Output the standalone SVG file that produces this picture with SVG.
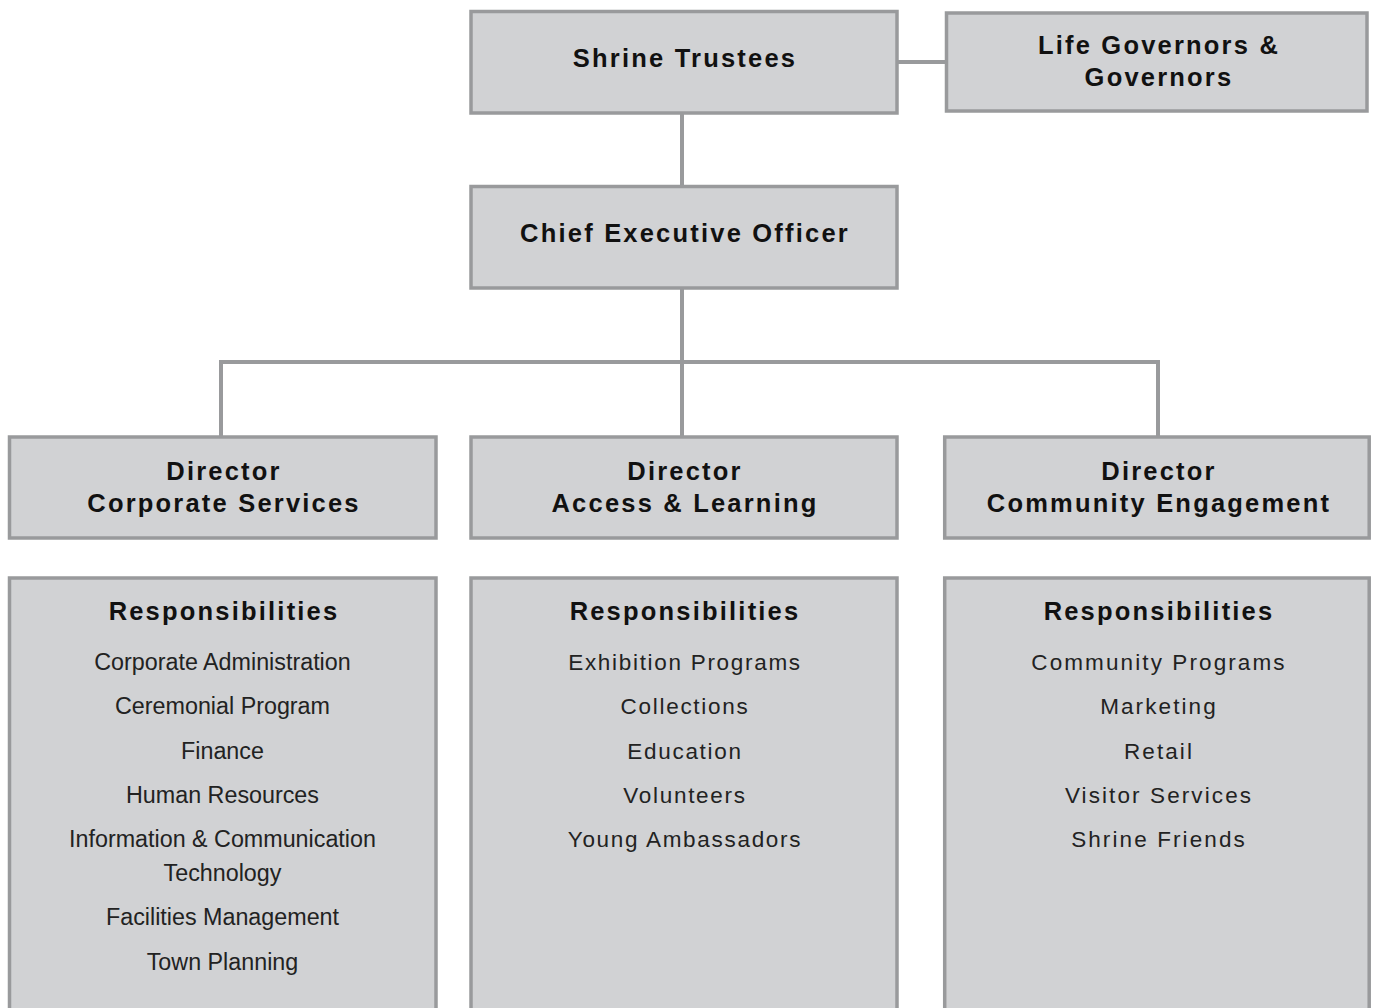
<svg xmlns="http://www.w3.org/2000/svg" width="1376" height="1008" viewBox="0 0 1376 1008">
<style>
.box{fill:#d1d2d4;stroke:#999a9c;stroke-width:3.5}
.conn{stroke:#999a9c;stroke-width:4;fill:none}
.h{font-family:"Liberation Sans",Arial,sans-serif;font-weight:bold;font-size:25.5px;letter-spacing:2.2px;fill:#111;text-anchor:middle}
.l{font-family:"Liberation Sans",Arial,sans-serif;font-size:23.3px;fill:#222;text-anchor:middle}
.m{font-family:"Liberation Sans",Arial,sans-serif;font-size:22.5px;letter-spacing:1.7px;fill:#222;text-anchor:middle}
.r{font-family:"Liberation Sans",Arial,sans-serif;font-size:22.5px;letter-spacing:2.1px;fill:#222;text-anchor:middle}
</style>
<rect width="1376" height="1008" fill="#fff"/>
<g id="connectors">
<line class="conn" x1="682" y1="113" x2="682" y2="187"/>
<line class="conn" x1="897" y1="62" x2="947" y2="62"/>
<line class="conn" x1="682" y1="288" x2="682" y2="437"/>
<polyline class="conn" points="221,437 221,362 1158,362 1158,437"/>
</g>
<g id="trustees">
<rect class="box" x="471" y="11.5" width="426" height="101.5"/>
<text class="h" x="685" y="67">Shrine Trustees</text>
</g>
<g id="governors">
<rect class="box" x="946.5" y="13" width="420.5" height="98"/>
<text class="h" x="1159" y="53.5">Life Governors &amp;</text>
<text class="h" x="1159" y="85.5">Governors</text>
</g>
<g id="ceo">
<rect class="box" x="471" y="186.5" width="426" height="101.5"/>
<text class="h" x="685" y="242">Chief Executive Officer</text>
</g>
<g id="dir-corporate">
<rect class="box" x="9.5" y="437" width="426.5" height="101"/>
<text class="h" x="224" y="479.5">Director</text>
<text class="h" x="224" y="511.5">Corporate Services</text>
</g>
<g id="dir-access">
<rect class="box" x="471" y="437" width="426" height="101"/>
<text class="h" x="685" y="479.5">Director</text>
<text class="h" x="685" y="511.5">Access &amp; Learning</text>
</g>
<g id="dir-community">
<rect class="box" x="944.7" y="437" width="424.5" height="101"/>
<text class="h" x="1159" y="479.5">Director</text>
<text class="h" x="1159" y="511.5">Community Engagement</text>
</g>
<g id="resp-corporate">
<rect class="box" x="9.5" y="578" width="426.5" height="440"/>
<text class="h" x="224" y="620">Responsibilities</text>
<text class="l" x="222.5" y="670">Corporate Administration</text>
<text class="l" x="222.5" y="714">Ceremonial Program</text>
<text class="l" x="222.5" y="759">Finance</text>
<text class="l" x="222.5" y="803">Human Resources</text>
<text class="l" x="222.5" y="847">Information &amp; Communication</text>
<text class="l" x="222.5" y="881">Technology</text>
<text class="l" x="222.5" y="925">Facilities Management</text>
<text class="l" x="222.5" y="970">Town Planning</text>
</g>
<g id="resp-access">
<rect class="box" x="471" y="578" width="426" height="440"/>
<text class="h" x="685" y="620">Responsibilities</text>
<text class="m" x="685" y="670">Exhibition Programs</text>
<text class="m" x="685" y="714">Collections</text>
<text class="m" x="685" y="759">Education</text>
<text class="m" x="685" y="803">Volunteers</text>
<text class="m" x="685" y="847">Young Ambassadors</text>
</g>
<g id="resp-community">
<rect class="box" x="944.7" y="578" width="424.5" height="440"/>
<text class="h" x="1159" y="620">Responsibilities</text>
<text class="r" x="1159" y="670">Community Programs</text>
<text class="r" x="1159" y="714">Marketing</text>
<text class="r" x="1159" y="759">Retail</text>
<text class="r" x="1159" y="803">Visitor Services</text>
<text class="r" x="1159" y="847">Shrine Friends</text>
</g>
</svg>
